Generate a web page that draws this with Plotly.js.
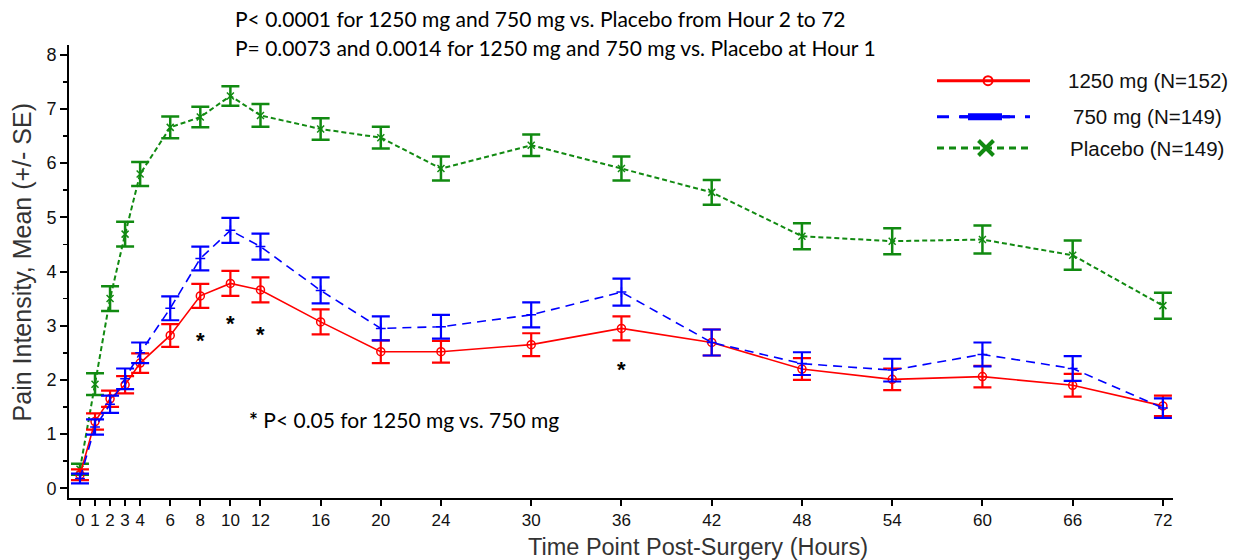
<!DOCTYPE html>
<html>
<head>
<meta charset="utf-8">
<script src="https://cdn.plot.ly/plotly-3.0.1.min.js"></script>
<style>html,body{margin:0;padding:0;background:#fff;}#chart{width:1234px;height:560px;}</style>
</head>
<body>
<div id="chart"></div>
<script>
// ---- data ----
const hours = [0, 1, 2, 3, 4, 6, 8, 10, 12, 16, 20, 24, 30, 36, 42, 48, 54, 60, 66, 72];
const tickVals = [0, 1, 2, 3, 4, 6, 8, 10, 12, 16, 20, 24, 30, 36, 42, 48, 54, 60, 66, 72];
const tickText = ["0", "1", "2", "3", "4", "6", "8", "10", "12", "16", "20", "24", "30", "36", "42", "48", "54", "60", "66", "72"];

const mean1250 = [0.25, 1.23, 1.65, 1.91, 2.31, 2.82, 3.55, 3.78, 3.66, 3.07, 2.52, 2.52, 2.65, 2.95, 2.69, 2.20, 2.01, 2.06, 1.90, 1.52];
const se1250   = [0.10, 0.15, 0.15, 0.16, 0.18, 0.21, 0.22, 0.23, 0.23, 0.23, 0.21, 0.20, 0.21, 0.22, 0.24, 0.20, 0.20, 0.20, 0.21, 0.19];

const mean750 = [0.18, 1.13, 1.55, 2.02, 2.50, 3.32, 4.24, 4.76, 4.46, 3.65, 2.95, 2.98, 3.20, 3.62, 2.69, 2.30, 2.18, 2.47, 2.21, 1.48];
const se750   = [0.09, 0.14, 0.16, 0.19, 0.19, 0.22, 0.22, 0.23, 0.24, 0.24, 0.22, 0.22, 0.23, 0.25, 0.24, 0.21, 0.21, 0.22, 0.23, 0.18];

const meanPlacebo = [0.35, 1.92, 3.50, 4.69, 5.80, 6.66, 6.85, 7.24, 6.88, 6.63, 6.47, 5.90, 6.33, 5.90, 5.46, 4.65, 4.56, 4.59, 4.30, 3.37];
const sePlacebo   = [0.10, 0.20, 0.23, 0.23, 0.22, 0.20, 0.19, 0.18, 0.21, 0.20, 0.20, 0.22, 0.20, 0.22, 0.23, 0.24, 0.24, 0.26, 0.27, 0.24];

const seriesNames = ["1250 mg (N=152)", "750 mg (N=149)", "Placebo (N=149)"];
const sigHours = [8, 10, 12, 36];
const sigY = [2.72, 3.04, 2.83, 2.20];

const titleLines = [
  "P< 0.0001 for 1250 mg and 750 mg vs. Placebo from Hour 2 to 72",
  "P= 0.0073 and 0.0014 for 1250 mg and 750 mg vs. Placebo at Hour 1"
];
const sigNote = "<b>*</b> P< 0.05 for 1250 mg vs. 750 mg";
const xTitle = "Time Point Post-Surgery (Hours)";
const yTitle = "Pain Intensity, Mean (+/- SE)";

// ---- style ----
const RED = "#ff0000", BLUE = "#0000ff", GREEN = "#118a11";
const TXT = "#111111";
const AX_FONT = "Liberation Sans, Arial, sans-serif";
const NOTE_FONT = "Lato, Open Sans, sans-serif";

function errBar(se, color, th) {
  return {type: "data", array: se, visible: true, color: color, thickness: th, width: 9};
}

const traces = [
  {
    x: hours, y: meanPlacebo, type: "scatter", mode: "lines+markers", name: seriesNames[2],
    line: {color: GREEN, width: 2, dash: "5px,3px"},
    marker: {symbol: "x-thin", size: 7, color: GREEN, line: {color: GREEN, width: 1.5}},
    error_y: errBar(sePlacebo, GREEN, 2.5), showlegend: false
  },
  {
    x: hours, y: mean1250, type: "scatter", mode: "lines+markers", name: seriesNames[0],
    line: {color: RED, width: 1.6},
    marker: {symbol: "circle-open", size: 8, color: RED, line: {color: RED, width: 1.5}},
    error_y: errBar(se1250, RED, 2.2), showlegend: false
  },
  {
    x: hours, y: mean750, type: "scatter", mode: "lines+markers", name: seriesNames[1],
    line: {color: BLUE, width: 1.6, dash: "9px,6px"},
    marker: {symbol: "cross-thin", size: 7, color: BLUE, line: {color: BLUE, width: 1.5}},
    error_y: errBar(se750, BLUE, 2.2), showlegend: false
  }
];

// ---- legend (drawn on a pixel overlay axis) ----
const legRows = [80.7, 116.7, 148];
traces.push({
  x: [988], y: [legRows[0]], xaxis: "x2", yaxis: "y2", type: "scatter", mode: "markers",
  marker: {symbol: "circle-open", size: 9, color: RED, line: {color: RED, width: 2}},
  showlegend: false, hoverinfo: "skip", cliponaxis: false
});
traces.push({
  x: [986], y: [legRows[2]], xaxis: "x2", yaxis: "y2", type: "scatter", mode: "markers",
  marker: {symbol: "x-thin", size: 15, color: GREEN, line: {color: GREEN, width: 4}},
  showlegend: false, hoverinfo: "skip", cliponaxis: false
});

const shapes = [
  {type: "line", xref: "x2", yref: "y2", x0: 937, x1: 1030, y0: legRows[0], y1: legRows[0], line: {color: RED, width: 3}},
  {type: "line", xref: "x2", yref: "y2", x0: 937, x1: 1030, y0: legRows[1], y1: legRows[1], line: {color: BLUE, width: 3, dash: "12px,10px"}},
  {type: "line", xref: "x2", yref: "y2", x0: 968, x1: 1002, y0: legRows[1], y1: legRows[1], line: {color: BLUE, width: 7}},
  {type: "line", xref: "x2", yref: "y2", x0: 960, x1: 1010, y0: legRows[1], y1: legRows[1], line: {color: BLUE, width: 3}},
  {type: "line", xref: "x2", yref: "y2", x0: 937, x1: 1030, y0: legRows[2], y1: legRows[2], line: {color: GREEN, width: 3, dash: "7px,5px"}}
];

const legTextX = [1066, 1071, 1068];
const annotations = [];
for (let i = 0; i < 3; i++) {
  annotations.push({
    xref: "x2", yref: "y2", x: legTextX[i], y: legRows[i], xanchor: "left", yanchor: "middle",
    text: seriesNames[i], showarrow: false, font: {family: AX_FONT, size: 20.5, color: TXT}
  });
}
annotations.push({
  xref: "paper", yref: "paper", x: 0.1486, y: 1.0596, xanchor: "left", yanchor: "middle",
  text: titleLines[0], showarrow: false, font: {family: NOTE_FONT, size: 21, color: "#000"}
});
annotations.push({
  xref: "paper", yref: "paper", x: 0.1486, y: 0.9934, xanchor: "left", yanchor: "middle",
  text: titleLines[1], showarrow: false, font: {family: NOTE_FONT, size: 21, color: "#000"}
});
annotations.push({
  xref: "x", yref: "y", x: 11.1, y: 1.26, xanchor: "left", yanchor: "middle",
  text: sigNote, showarrow: false, font: {family: NOTE_FONT, size: 21, color: "#000"}
});
for (let i = 0; i < sigHours.length; i++) {
  annotations.push({
    xref: "x", yref: "y", x: sigHours[i], y: sigY[i], xanchor: "center", yanchor: "middle",
    text: "<b>*</b>", showarrow: false, font: {family: AX_FONT, size: 22, color: "#000"}
  });
}
annotations.push({
  xref: "paper", yref: "paper", x: 0.5697, y: -0.108, xanchor: "center", yanchor: "middle",
  text: xTitle, showarrow: false, font: {family: AX_FONT, size: 23.5, color: "#333"}
});
annotations.push({
  xref: "paper", yref: "paper", x: -0.0426, y: 0.52, xanchor: "center", yanchor: "middle", textangle: -90,
  text: yTitle, showarrow: false, font: {family: AX_FONT, size: 25, color: "#333"}
});

const layout = {
  width: 1234, height: 560,
  margin: {l: 69, r: 61, t: 45, b: 62},
  paper_bgcolor: "#fff", plot_bgcolor: "#fff",
  showlegend: false,
  xaxis: {
    range: [-0.73, 72.67], tickmode: "array", tickvals: tickVals, ticktext: tickText,
    showgrid: false, zeroline: false, showline: true, linecolor: "#000", linewidth: 2,
    ticks: "outside", ticklen: 6, tickwidth: 2, tickcolor: "#000",
    tickfont: {family: AX_FONT, size: 17, color: TXT}
  },
  yaxis: {
    range: [-0.18, 8.18], tickmode: "array", tickvals: [0, 1, 2, 3, 4, 5, 6, 7, 8],
    showgrid: false, zeroline: false, showline: true, linecolor: "#000", linewidth: 2,
    ticks: "outside", ticklen: 7, tickwidth: 2, tickcolor: "#000",
    minor: {dtick: 0.5, ticks: "outside", ticklen: 4, tickwidth: 1.5, tickcolor: "#000", showgrid: false},
    tickfont: {family: AX_FONT, size: 18, color: TXT}
  },
  xaxis2: {overlaying: "x", range: [69, 1173], visible: false, anchor: "y2", fixedrange: true},
  yaxis2: {overlaying: "y", range: [498, 45], visible: false, anchor: "x2", fixedrange: true},
  shapes: shapes,
  annotations: annotations
};

Plotly.newPlot("chart", traces, layout, {displayModeBar: false, staticPlot: true});
</script>
</body>
</html>
